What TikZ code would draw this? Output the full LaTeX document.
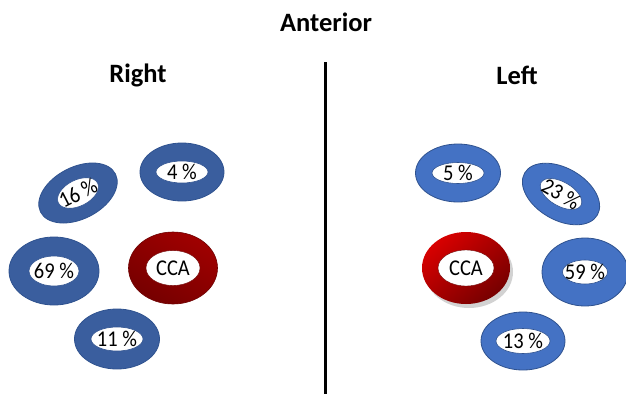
\documentclass[tikz,border=0pt]{standalone}
\usepackage{fontspec}
\setmainfont{Carlito}
\usetikzlibrary{shadows}
\definecolor{rblue}{HTML}{3A5E9E}
\definecolor{lblue}{HTML}{4472C4}
\definecolor{bedge}{HTML}{2F528F}
\definecolor{redge}{HTML}{6E0000}
\definecolor{ccadark}{HTML}{760000}
\definecolor{ccamid}{HTML}{A00000}
\definecolor{ccabright}{HTML}{D80000}
\begin{document}
\begin{tikzpicture}[x=1pt,y=-1pt,
  ringR/.style={fill=rblue,draw=bedge,line width=0.8pt},
  ringL/.style={fill=lblue,draw=bedge,line width=0.8pt},
  hole/.style={fill=white,draw=bedge,line width=0.6pt},
  holeR/.style={fill=white,draw=redge,line width=0.4pt},
  pct/.style={inner sep=0pt,transform shape,yscale=1.1,font=\fontsize{20.5}{22}\selectfont},
  head/.style={inner sep=0pt,font=\fontsize{26.5}{28}\selectfont\bfseries}]
\useasboundingbox[fill=white] (0,0) rectangle (626,394);
% headings
\node[head] (ant) at (326,22) {Anterior};
\node[head] (right) at (138,75) {Right};
\node[head] (left) at (517,75) {Left};
\draw[line width=3pt] (325,62) -- (325,394);
% ---- Right side
\begin{scope}[shift={(78,193)},rotate=27]
\filldraw[ringR] (0,0) ellipse[x radius=42,y radius=26];
\filldraw[hole] (0,0) ellipse[x radius=22,y radius=13];
\node[pct] (r16) at (0,0) {16 \%};
\end{scope}
\begin{scope}[shift={(182,172)}]
\filldraw[ringR] (0,0) ellipse[x radius=42,y radius=29];
\filldraw[hole] (0,0) ellipse[x radius=26,y radius=11];
\node[pct] (r4) at (0,0) {4 \%};
\end{scope}
\begin{scope}[shift={(54,271)}]
\filldraw[ringR] (0,0) ellipse[x radius=45,y radius=34];
\filldraw[hole] (0,0) ellipse[x radius=25,y radius=15];
\node[pct] (r69) at (0,0) {69 \%};
\end{scope}
\begin{scope}[shift={(173,268)}]
\shade[top color=ccamid,bottom color=ccadark,shading angle=-30,draw=redge,line width=0.6pt] (0,0) ellipse[x radius=44.5,y radius=36];
\filldraw[holeR] (0,0) ellipse[x radius=27,y radius=17.5];
\node[pct] (rcca) at (0,0) {CCA};
\end{scope}
\begin{scope}[shift={(117,339)}]
\filldraw[ringR] (0,0) ellipse[x radius=42.5,y radius=30];
\filldraw[hole] (0,0) ellipse[x radius=26,y radius=12];
\node[pct] (r11) at (0,0) {11 \%};
\end{scope}
% ---- Left side
\begin{scope}[shift={(458,173)}]
\filldraw[ringL] (0,0) ellipse[x radius=42.5,y radius=29];
\filldraw[hole] (0,0) ellipse[x radius=26,y radius=10.5];
\node[pct] (l5) at (0,0) {5 \%};
\end{scope}
\begin{scope}[shift={(561,194)},rotate=-30]
\filldraw[ringL] (0,0) ellipse[x radius=42,y radius=26];
\filldraw[hole] (0,0) ellipse[x radius=23,y radius=12];
\node[pct] (l23) at (0,0) {23 \%};
\end{scope}
\begin{scope}[shift={(466,268)}]
\shade[top color=ccabright,bottom color=ccadark,shading angle=40,
  drop shadow={shadow xshift=3pt,shadow yshift=-4pt,opacity=0.35}] (0,0) ellipse[x radius=44,y radius=36];
\filldraw[holeR] (0,0) ellipse[x radius=28,y radius=18];
\node[pct] (lcca) at (0,0) {CCA};
\end{scope}
\begin{scope}[shift={(585,272)}]
\filldraw[ringL] (0,0) ellipse[x radius=43,y radius=34];
\filldraw[hole] (0,0) ellipse[x radius=22.5,y radius=12];
\node[pct] (l59) at (0,0) {59 \%};
\end{scope}
\begin{scope}[shift={(523,341)}]
\filldraw[ringL] (0,0) ellipse[x radius=42,y radius=29];
\filldraw[hole] (0,0) ellipse[x radius=27,y radius=12.5];
\node[pct] (l13) at (0,0) {13 \%};
\end{scope}
\end{tikzpicture}
\end{document}
